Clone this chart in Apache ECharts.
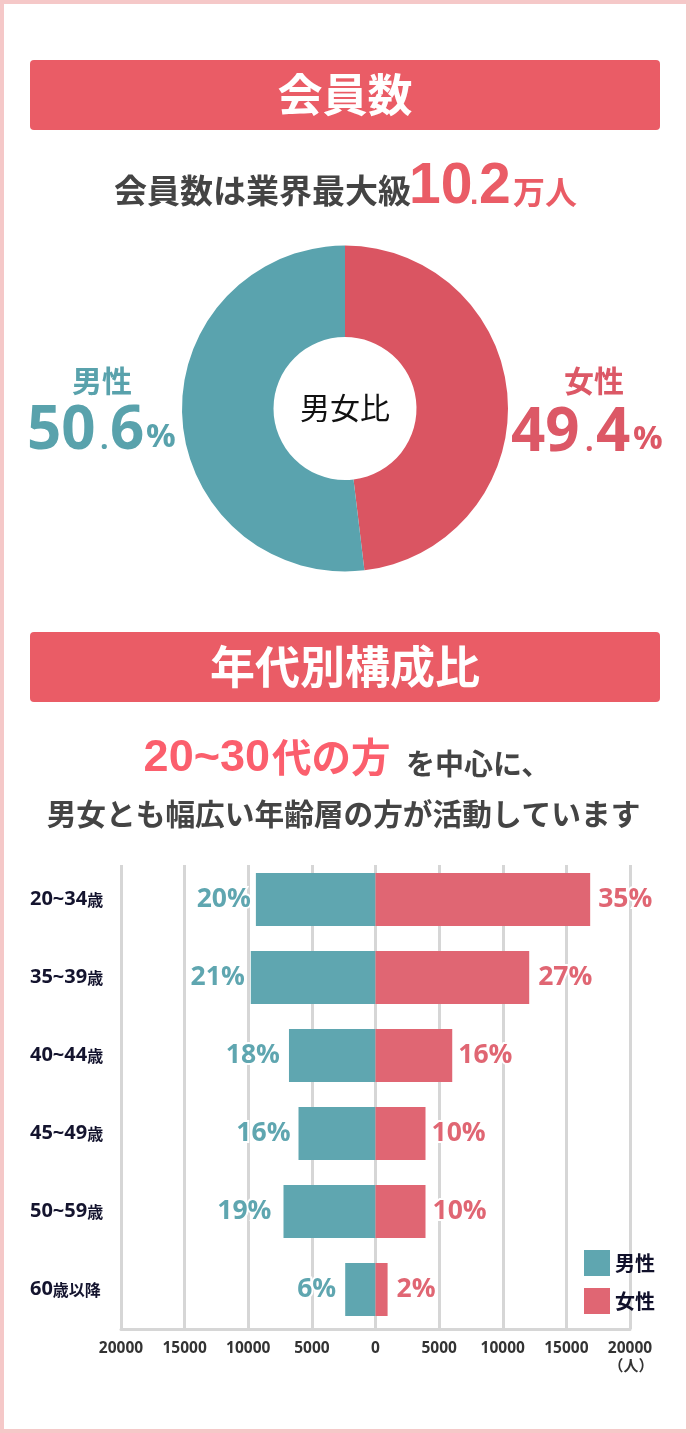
<!DOCTYPE html>
<html lang="ja">
<head>
    <meta charset="UTF-8">
    <title>会員数</title>
    <style>
        html,body{
            width: 100%;
            height: 100%;
            margin: 0;
            padding: 0;
            background: #fff;
        }
        #chart{
            width: 690px;
            height: 1433px;
        }
    </style>
</head>
<body>
    <div id="chart"></div>
    <script src="https://cdn.jsdelivr.net/npm/echarts@6/dist/echarts.min.js"></script>
    <script>
        var genderNames = ['女性', '男性'];
        var genderShare = [48.1, 51.9];   // 図の扇形の実測（表記は49.4 / 50.6）

        var ageCategories = ['20~34歳', '35~39歳', '40~44歳', '45~49歳', '50~59歳', '60歳以降'];
        var maleValues = [9400, 9800, 6800, 6050, 7230, 2380];
        var femaleValues = [16870, 12080, 6030, 3930, 3930, 950];
        var malePercent = ['20%', '21%', '18%', '16%', '19%', '6%'];
        var femalePercent = ['35%', '27%', '16%', '10%', '10%', '2%'];
        var maleLabelGap = [5, 6, 9, 8, 12, 9];
        var femaleLabelGap = [8, 9, 6, 6, 7, 9];
        var axisTicks = [20000, 15000, 10000, 5000, 0, 5000, 10000, 15000, 20000];

        var FONT = '"Noto Sans CJK JP", sans-serif';
        var NUM_FONT = '"Liberation Sans", sans-serif';
        var LABEL_FONT = '"Open Sans", "Noto Sans CJK JP", sans-serif';
        var RED = '#ea5c66';
        var PINK = '#dc5866';
        var TEAL = '#59a2ac';
        var MALE = '#5fa6b0';
        var FEMALE = '#e06673';

        function text(x, y, str, size, color, align, weight, family) {
            return {
                type: 'text', x: x, y: y, z: 10,
                style: {
                    text: str, fill: color, font: (weight || 'bold') + ' ' + size + 'px ' + (family || FONT),
                    textAlign: align || 'center', textVerticalAlign: 'middle'
                }
            };
        }
        function banner(y, title) {
            return [
                { type: 'rect', z: 5, shape: { x: 30, y: y, width: 630, height: 70, r: 4 }, style: { fill: RED } },
                text(345, y + 35, title, 45, '#fff')
            ];
        }

        var graphic = [
            { type: 'rect', z: 20, shape: { x: 2, y: 2, width: 686, height: 1429 }, style: { fill: 'none', stroke: '#f5c8c8', lineWidth: 4 } }
        ]
        .concat(banner(60, '会員数'))
        .concat(banner(632, '年代別構成比'))
        .concat([
            text(411, 190, '会員数は業界最大級', 33, '#444', 'right'),
            text(409, 187, '10', 57, RED, 'left', 'bold', NUM_FONT),
            text(470, 196, '.', 30, RED, 'left', 'bold', NUM_FONT),
            text(479, 187, '2', 57, RED, 'left', 'bold', NUM_FONT),
            text(513, 192, '万人', 32, RED, 'left'),

            text(102, 381, genderNames[1], 30, TEAL),
            text(27, 432, '50', 60, TEAL, 'left', 'bold', LABEL_FONT),
            text(100, 440, '.', 30, TEAL, 'left', 'bold', LABEL_FONT),
            text(110, 432, '6', 60, TEAL, 'left', 'bold', LABEL_FONT),
            text(146, 438, '%', 33, TEAL, 'left', 'bold', LABEL_FONT),

            text(594, 381, genderNames[0], 30, PINK),
            text(511, 434, '49', 60, PINK, 'left', 'bold', LABEL_FONT),
            text(585, 442, '.', 30, PINK, 'left', 'bold', LABEL_FONT),
            text(596, 434, '4', 60, PINK, 'left', 'bold', LABEL_FONT),
            text(633, 440, '%', 33, PINK, 'left', 'bold', LABEL_FONT),

            text(345, 408, '男女比', 30, '#111', 'center', 'normal'),

            text(270, 759, '20~30', 45, '#fb5f6d', 'right', 'bold', NUM_FONT),
            text(272, 757, '代の方', 39.5, '#fb5f6d', 'left'),
            text(406, 764, 'を中心に、', 29, '#444', 'left', 'bold'),
            text(343.5, 814, '男女とも幅広い年齢層の方が活動しています', 29.7, '#444', 'center', 'bold'),

            text(631, 1365, '（人）', 15, '#333', 'center')
        ]);

        var chart = echarts.init(document.getElementById('chart'));
        chart.setOption({
            animation: false,
            backgroundColor: '#fff',
            graphic: graphic,
            legend: {
                orient: 'vertical',
                left: 584,
                top: 1250,
                padding: 0,
                itemWidth: 26,
                itemHeight: 26,
                itemGap: 12,
                icon: 'rect',
                data: ['男性', '女性'],
                textStyle: { fontFamily: FONT, fontWeight: 'bold', fontSize: 20, color: '#10102a' }
            },
            grid: [
                { left: 121, right: 60, top: 865, height: 464 },
                { left: 121, right: 60, top: 860.5, height: 468 }
            ],
            xAxis: [
                {
                    gridIndex: 0, type: 'value', min: -20000, max: 20000, interval: 5000,
                    axisLine: { show: true, lineStyle: { color: '#d6d6d6', width: 3 } },
                    axisTick: { show: false },
                    splitLine: { show: true, lineStyle: { color: '#d6d6d6', width: 3 } },
                    axisLabel: {
                        margin: 12, fontFamily: LABEL_FONT, fontWeight: 'bold', fontSize: 15.5, color: '#333',
                        formatter: function (v, i) { return axisTicks[i]; }
                    }
                },
                { gridIndex: 1, type: 'value', min: -20000, max: 20000, show: false, splitLine: { show: false } }
            ],
            yAxis: [
                { gridIndex: 0, type: 'category', data: ageCategories, show: false },
                {
                    gridIndex: 1, type: 'category', inverse: true, data: ageCategories,
                    axisLine: { show: false }, axisTick: { show: false },
                    axisLabel: {
                        margin: 91, align: 'left',
                        formatter: function (v) {
                            return v.replace(/^([0-9~]+)(.*)$/, '{n|$1}{s|$2}');
                        },
                        rich: {
                            n: { fontFamily: LABEL_FONT, fontWeight: 'bold', fontSize: 20, color: '#14142e' },
                            s: { fontFamily: FONT, fontWeight: 'bold', fontSize: 16, color: '#14142e' }
                        }
                    }
                }
            ],
            series: [
                {
                    type: 'pie',
                    center: [345, 408.5],
                    radius: [71.5, 163],
                    startAngle: 90,
                    silent: true,
                    label: { show: false },
                    labelLine: { show: false },
                    data: [
                        { name: genderNames[0], value: genderShare[0], itemStyle: { color: '#da5562' } },
                        { name: genderNames[1], value: genderShare[1], itemStyle: { color: '#5aa3ae' } }
                    ]
                },
                {
                    name: '男性', type: 'bar', stack: 'age', xAxisIndex: 1, yAxisIndex: 1, barWidth: 53,
                    itemStyle: { color: MALE }, z: 3,
                    data: maleValues.map(function (v, i) {
                        return {
                            value: -v,
                            label: {
                                show: true, position: 'left', distance: maleLabelGap[i], formatter: malePercent[i],
                                fontFamily: LABEL_FONT, fontWeight: 'bold', fontSize: 26.5, color: MALE,
                                textBorderColor: '#fff', textBorderWidth: 4
                            }
                        };
                    })
                },
                {
                    name: '女性', type: 'bar', stack: 'age2', xAxisIndex: 1, yAxisIndex: 1, barWidth: 53, barGap: '-100%',
                    itemStyle: { color: FEMALE }, z: 3,
                    data: femaleValues.map(function (v, i) {
                        return {
                            value: v,
                            label: {
                                show: true, position: 'right', distance: femaleLabelGap[i], formatter: femalePercent[i],
                                fontFamily: LABEL_FONT, fontWeight: 'bold', fontSize: 26.5, color: FEMALE,
                                textBorderColor: '#fff', textBorderWidth: 4
                            }
                        };
                    })
                }
            ]
        });
    </script>
</body>
</html>
